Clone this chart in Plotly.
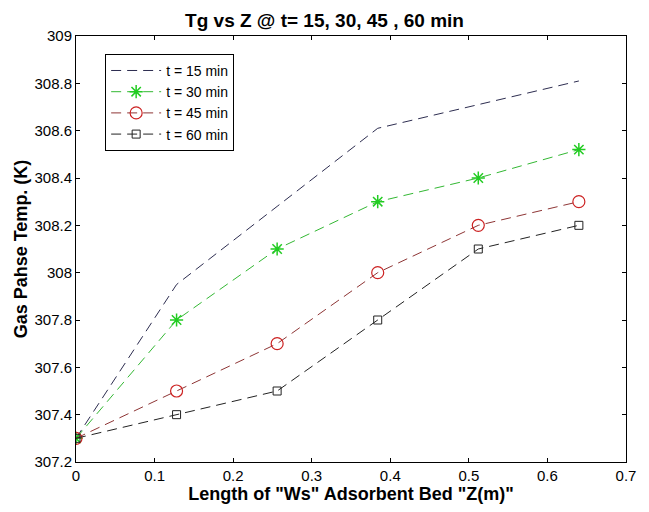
import plotly.graph_objects as go

z = [0, 0.128, 0.256, 0.384, 0.512, 0.64]
tg_15 = [307.3, 307.95, 308.28, 308.61, 308.71, 308.81]
tg_30 = [307.3, 307.8, 308.1, 308.3, 308.4, 308.52]
tg_45 = [307.3, 307.5, 307.7, 308.0, 308.2, 308.3]
tg_60 = [307.3, 307.4, 307.5, 307.8, 308.1, 308.2]

y_ticks = [307.2, 307.4, 307.6, 307.8, 308, 308.2, 308.4, 308.6, 308.8, 309]
y_ticktext = ["307.2", "307.4", "307.6", "307.8", "308", "308.2", "308.4", "308.6", "308.8", "309"]
x_ticks = [0, 0.1, 0.2, 0.3, 0.4, 0.5, 0.6, 0.7]
x_ticktext = ["0", "0.1", "0.2", "0.3", "0.4", "0.5", "0.6", "0.7"]

DASH = "10px,6px"
fig = go.Figure()
fig.add_trace(go.Scatter(x=z, y=tg_15, mode="lines", name="t = 15 min",
                         line=dict(color="#2d2d50", width=1, dash=DASH)))
fig.add_trace(go.Scatter(x=z, y=tg_30, mode="lines+markers", name="t = 30 min",
                         line=dict(color="#33b833", width=1, dash=DASH),
                         marker=dict(symbol="asterisk-open", size=11, color="#22cc22",
                                     line=dict(color="#22cc22", width=1.5))))
fig.add_trace(go.Scatter(x=z, y=tg_45, mode="lines+markers", name="t = 45 min",
                         line=dict(color="#8e3535", width=1, dash=DASH),
                         marker=dict(symbol="circle-open", size=12, color="#cc2222",
                                     line=dict(color="#cc2222", width=1.2))))
fig.add_trace(go.Scatter(x=z, y=tg_60, mode="lines+markers", name="t = 60 min",
                         line=dict(color="#222222", width=1, dash=DASH),
                         marker=dict(symbol="square-open", size=8, color="#222222",
                                     line=dict(color="#222222", width=1))))

fig.update_layout(
    width=649, height=512,
    margin=dict(l=76, r=23, t=36, b=50),
    paper_bgcolor="white", plot_bgcolor="white",
    font=dict(family="Liberation Sans, Arial", size=15, color="black"),
    title=dict(text="<b>Tg vs Z @ t= 15, 30, 45 , 60 min</b>", x=0.5, xanchor="center",
               y=0.961, yanchor="middle", font=dict(size=19)),
    showlegend=True,
    legend=dict(x=0.053, y=0.958, xanchor="left", yanchor="top",
                bordercolor="black", borderwidth=1, bgcolor="white",
                font=dict(size=14), tracegroupgap=0, itemwidth=50),
)
fig.update_xaxes(range=[0, 0.7], tickvals=x_ticks, ticktext=x_ticktext,
                 showgrid=False, zeroline=False, showline=True, linecolor="black",
                 linewidth=1, mirror="allticks", ticks="inside", ticklen=4,
                 tickcolor="black",
                 title=dict(text="<b>Length of \"Ws\" Adsorbent Bed \"Z(m)\"</b>",
                            font=dict(size=18), standoff=2))
fig.update_yaxes(range=[307.2, 309], tickvals=y_ticks, ticktext=y_ticktext,
                 showgrid=False, zeroline=False, showline=True, linecolor="black",
                 linewidth=1, mirror="allticks", ticks="inside", ticklen=4,
                 tickcolor="black",
                 title=dict(text="<b>Gas Pahse Temp. (K)</b>",
                            font=dict(size=18), standoff=2))

fig.write_html("out.html")
